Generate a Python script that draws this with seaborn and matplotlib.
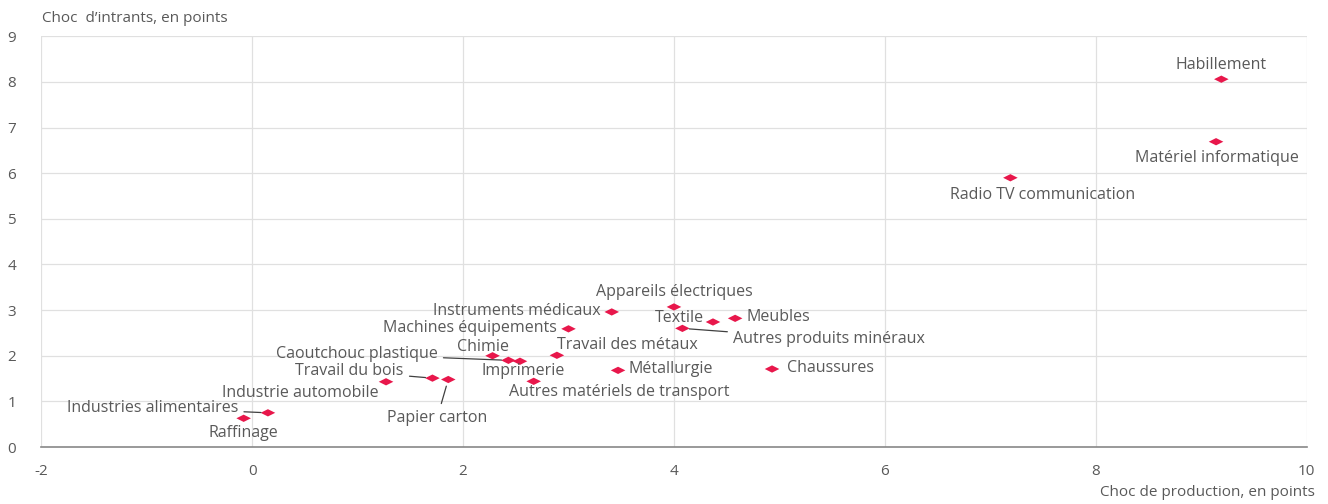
import matplotlib
matplotlib.use("Agg")
import matplotlib.pyplot as plt
import seaborn as sns
import pandas as pd
from matplotlib.path import Path

sectors = ["Habillement", "Matériel informatique", "Radio TV communication",
           "Appareils électriques", "Instruments médicaux", "Meubles", "Textile",
           "Autres produits minéraux", "Machines équipements", "Travail des métaux",
           "Chimie", "Caoutchouc plastique", "Imprimerie", "Travail du bois",
           "Papier carton", "Industrie automobile", "Autres matériels de transport",
           "Métallurgie", "Chaussures", "Industries alimentaires", "Raffinage"]
prod_shock = [9.19, 9.14, 7.19, 4.00, 3.41, 4.58, 4.37, 4.08, 3.00, 2.89,
              2.28, 2.43, 2.54, 1.71, 1.86, 1.27, 2.67, 3.47, 4.93, 0.15, -0.08]
input_shock = [8.06, 6.69, 5.90, 3.07, 2.96, 2.82, 2.74, 2.60, 2.59, 2.01,
               2.00, 1.90, 1.88, 1.51, 1.48, 1.43, 1.44, 1.68, 1.71, 0.75, 0.63]
x_ticks = [-2, 0, 2, 4, 6, 8, 10]
y_ticks = [0, 1, 2, 3, 4, 5, 6, 7, 8, 9]

# label placement: (dx, dy in pixels, ha, leader line)
label_pos = {
    "Habillement": (0, 14, "center", False),
    "Matériel informatique": (1, -16, "center", False),
    "Radio TV communication": (32, -17, "center", False),
    "Appareils électriques": (0, 15, "center", False),
    "Instruments médicaux": (-11, 1, "right", False),
    "Meubles": (11, 1, "left", False),
    "Textile": (-9, 4, "right", False),
    "Autres produits minéraux": (51, -11, "left", True),
    "Machines équipements": (-12, 1, "right", False),
    "Travail des métaux": (0, 10, "left", False),
    "Chimie": (-10, 9, "center", False),
    "Caoutchouc plastique": (-71, 6, "right", True),
    "Imprimerie": (3, -10, "center", False),
    "Travail du bois": (-29, 7, "right", True),
    "Papier carton": (-11, -38, "center", True),
    "Industrie automobile": (-7, -11, "right", False),
    "Autres matériels de transport": (86, -11, "center", False),
    "Métallurgie": (10, 1, "left", False),
    "Chaussures": (15, 1, "left", False),
    "Industries alimentaires": (-30, 5, "right", True),
    "Raffinage": (0, -15, "center", False),
}

df = pd.DataFrame({"sector": sectors, "x": prod_shock, "y": input_shock})

sns.set_theme(style="white")
plt.rcParams["font.family"] = ["Open Sans", "DejaVu Sans"]
text_color = "#595959"

fig, ax = plt.subplots(figsize=(13.28, 5.04), dpi=100)
fig.subplots_adjust(left=0.031, right=0.984, top=0.928, bottom=0.113)

diamond = Path([(-1, 0), (0, 0.5), (1, 0), (0, -0.5), (-1, 0)],
               [Path.MOVETO, Path.LINETO, Path.LINETO, Path.LINETO, Path.CLOSEPOLY])
sns.scatterplot(data=df, x="x", y="y", ax=ax, marker=diamond, s=110,
                color="#e8174b", edgecolor="none", zorder=3, legend=False)

for s, xv, yv in zip(sectors, prod_shock, input_shock):
    dx, dy, ha, line = label_pos[s]
    kw = {}
    if line:
        kw["arrowprops"] = dict(arrowstyle="-", color="#404040", lw=0.9,
                                shrinkA=2, shrinkB=5)
    ax.annotate(s, (xv, yv), xytext=(dx, dy), textcoords="offset pixels",
                ha=ha, va="center", fontsize=11.5, color=text_color, zorder=4, **kw)

ax.set_xlim(-2, 10)
ax.set_ylim(0, 9)
ax.set_xticks(x_ticks)
ax.set_yticks(y_ticks)
ax.set_xticklabels([str(v) for v in x_ticks])
ax.set_yticklabels([str(v) for v in y_ticks])
ax.grid(True, color="#e0e0e0", lw=0.9)
ax.set_axisbelow(True)
for side in ["left", "right", "top"]:
    ax.spines[side].set_visible(False)
ax.spines["bottom"].set_color("#888888")
ax.spines["bottom"].set_linewidth(1.2)
ax.tick_params(axis="both", length=0, labelsize=11, labelcolor=text_color)
ax.tick_params(axis="x", pad=12)
ax.tick_params(axis="y", pad=18)
ax.set_xlabel("")
ax.set_ylabel("")

fig.text(0.0316, 0.964, "Choc  d\u2019intrants, en points", ha="left", va="center",
         fontsize=11, color=text_color)
fig.text(0.990, 0.022, "Choc de production, en points", ha="right", va="center",
         fontsize=11, color=text_color)

fig.savefig("out.png", dpi=100)
